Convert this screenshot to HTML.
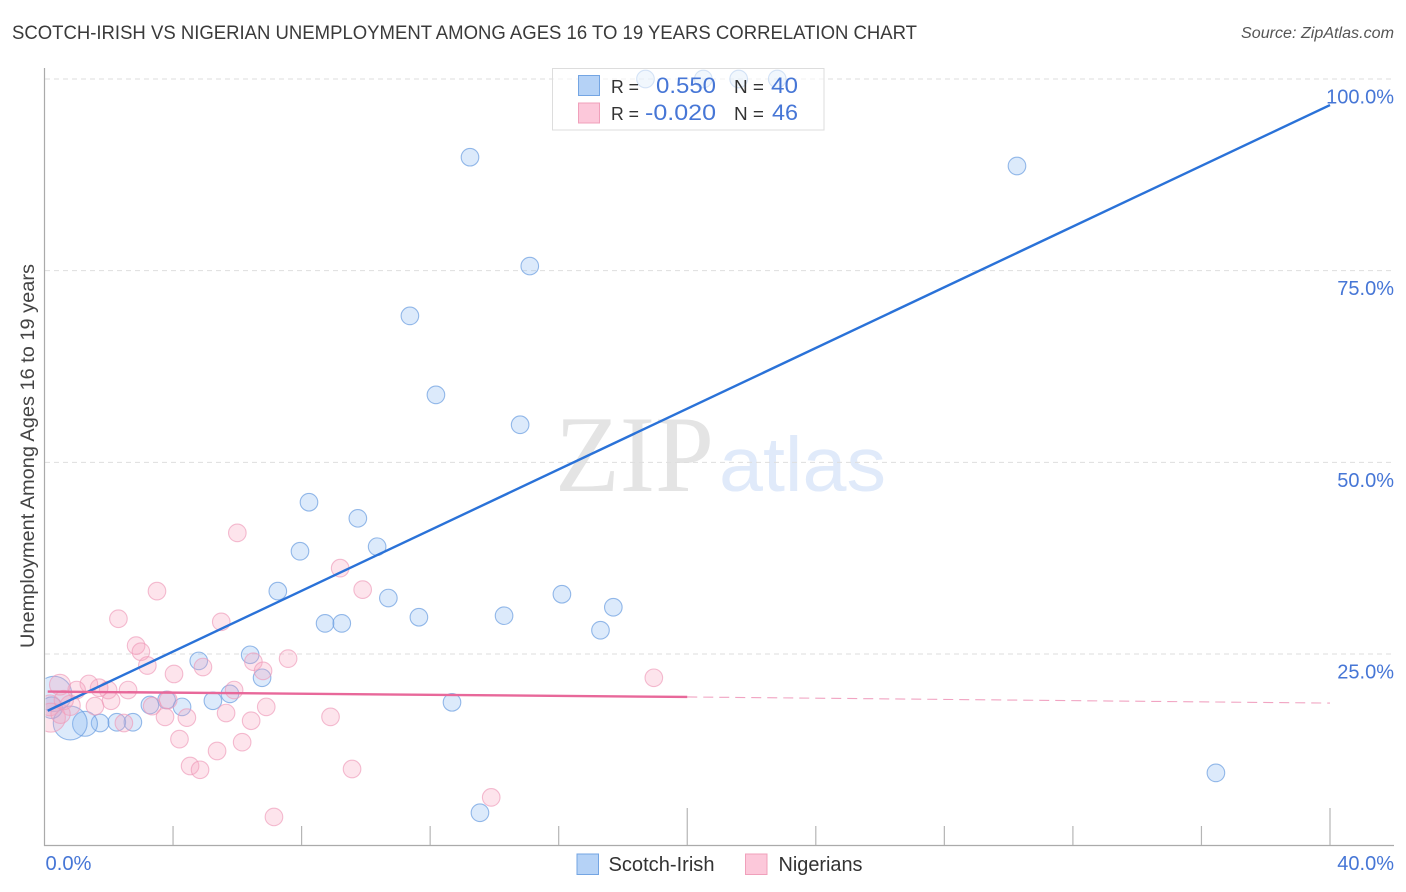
<!DOCTYPE html>
<html lang="en">
<head>
<meta charset="utf-8">
<title>Scotch-Irish vs Nigerian Unemployment Correlation Chart</title>
<style>
html,body{margin:0;padding:0;background:#fff;width:1406px;height:892px;overflow:hidden}
svg{display:block}
text{font-family:"Liberation Sans",sans-serif}
</style>
</head>
<body>
<svg id="chart" width="1406" height="892" viewBox="0 0 1406 892">
  <defs><clipPath id="plot-clip"><rect x="45.5" y="60" width="1350" height="785"/></clipPath></defs>
  <text x="12" y="39" font-size="19" fill="#3a3a3a" textLength="905" lengthAdjust="spacingAndGlyphs">SCOTCH-IRISH VS NIGERIAN UNEMPLOYMENT AMONG AGES 16 TO 19 YEARS CORRELATION CHART</text>
  <text x="1241" y="38" font-size="15.5" font-style="italic" fill="#555" textLength="153" lengthAdjust="spacingAndGlyphs">Source: ZipAtlas.com</text>
  <text transform="translate(34,456) rotate(-90)" text-anchor="middle" font-size="19" fill="#444" textLength="384" lengthAdjust="spacingAndGlyphs">Unemployment Among Ages 16 to 19 years</text>
  <g>
    <text x="555" y="491" font-size="109" fill="#e4e4e4" style="font-family:'Liberation Serif',serif" textLength="159" lengthAdjust="spacingAndGlyphs">ZIP</text>
    <text x="719" y="491" font-size="77" fill="#e0eafa" textLength="167" lengthAdjust="spacingAndGlyphs">atlas</text>
  </g>
  <g id="grid"></g>
  <g id="axes"></g>
  <g id="points" clip-path="url(#plot-clip)"></g>
  <g id="trends"></g>
  <g>
    <rect x="552.5" y="68.5" width="271.5" height="61.5" fill="#fff" fill-opacity="0.6" stroke="#ddd"/>
    <rect x="578.5" y="75.5" width="21" height="20" fill="#b5d2f6" stroke="#74a5e3"/>
    <rect x="578.5" y="103" width="21" height="20" fill="#fcc8da" stroke="#f0a0bb"/>
    <text x="611" y="93" font-size="18" fill="#333" textLength="28" lengthAdjust="spacingAndGlyphs">R =</text>
    <text x="656" y="93" font-size="22" fill="#4676d6" textLength="60" lengthAdjust="spacingAndGlyphs">0.550</text>
    <text x="734" y="93" font-size="18" fill="#333" textLength="30" lengthAdjust="spacingAndGlyphs">N =</text>
    <text x="771" y="93" font-size="22" fill="#4676d6" textLength="27" lengthAdjust="spacingAndGlyphs">40</text>
    <text x="611" y="120" font-size="18" fill="#333" textLength="28" lengthAdjust="spacingAndGlyphs">R =</text>
    <text x="645" y="120" font-size="22" fill="#4676d6" textLength="71" lengthAdjust="spacingAndGlyphs">-0.020</text>
    <text x="734" y="120" font-size="18" fill="#333" textLength="30" lengthAdjust="spacingAndGlyphs">N =</text>
    <text x="772" y="120" font-size="22" fill="#4676d6" textLength="26" lengthAdjust="spacingAndGlyphs">46</text>
  </g>
  <g>
    <rect x="577" y="854" width="21.5" height="20.5" fill="#b5d2f6" stroke="#74a5e3"/>
    <text x="608.5" y="871" font-size="20" fill="#333" textLength="106" lengthAdjust="spacingAndGlyphs">Scotch-Irish</text>
    <rect x="745.5" y="854" width="21.5" height="20.5" fill="#fcc8da" stroke="#f0a0bb"/>
    <text x="778.5" y="871" font-size="20" fill="#333" textLength="84" lengthAdjust="spacingAndGlyphs">Nigerians</text>
  </g>
</svg>
<script>
const xTickValues = [0,4,8,12,16,20,24,28,32,36,40];
const xTickLabels = ["0.0%","40.0%"];
const yTickValues = [25,50,75,100];
const yTickLabels = ["25.0%","50.0%","75.0%","100.0%"];

const scotchX = [13.24,30.26,15.1,11.37,12.18,14.8,8.23,9.75,7.95,10.35,7.26,10.7,11.65,14.3,16.1,17.7,17.3,8.73,9.25,6.4,4.8,6.77,5.24,5.77,3.8,4.28,3.28,12.68,2.75,2.25,1.73,1.26,0.8,0.3,0.22,36.45,13.55,18.7,20.5,21.6,22.8];
const scotchY = [89.8,88.65,75.6,69.1,58.8,54.9,44.8,42.7,38.4,39.0,33.2,32.3,29.8,30.0,32.8,31.1,28.1,29.0,29.0,24.9,24.1,21.9,18.9,19.8,19.0,18.1,18.35,18.7,16.1,16.1,16.0,15.9,16.0,19.8,18.0,9.5,4.3,100,100,100,100];
const scotchWeight = [1,1,1,1,1,1,1,1,1,1,1,1,1,1,1,1,1,1,1,1,1,1,1,1,1,1,1,1,1,1,1,2.0,3.7,4.0,1.5,1,1,1,1,1,1];

const nigerianX = [6.0,3.5,2.3,9.2,9.9,5.5,2.85,3.0,3.2,7.58,6.5,6.8,4.93,4.03,18.96,5.9,2.6,1.98,1.7,1.38,1.0,0.48,1.57,2.07,0.8,3.35,3.85,6.9,5.65,3.75,4.43,6.43,8.9,2.47,0.17,0.2,0.5,6.15,4.2,5.37,4.53,4.84,9.57,13.9,7.14,0.6];
const nigerianY = [40.8,33.2,29.6,36.2,33.4,29.2,26.1,25.3,23.5,24.4,24.0,22.8,23.3,22.4,21.9,20.3,20.3,20.3,20.6,21.1,20.3,21.0,18.2,18.9,18.3,18.2,19.0,18.1,17.3,16.8,16.7,16.3,16.8,16.0,18.3,16.7,17.2,13.5,13.9,12.35,10.4,9.9,10.0,6.3,3.75,19.0];
const nigerianWeight = [1,1,1,1,1,1,1,1,1,1,1,1,1,1,1,1,1,1,1,1,1,1.4,1,1,1.3,1,1,1,1,1,1,1,1,1,1.4,2.7,1.2,1,1,1,1,1,1,1,1,1.2];

const scotchTrendX = [0.1,40];
const scotchTrendY = [17.6,96.6];
const nigerianTrendX = [0.1,20];
const nigerianTrendY = [20.1,19.4];
const nigerianDashX = [20,40];
const nigerianDashY = [19.4,18.6];

const NS = "http://www.w3.org/2000/svg";
function xScale(v){ return 44.5 + v * (1330 - 44.5) / 40; }
function yScale(v){ return 845.7 - v * 7.667; }
function rScale(w){ return 8.8 * Math.sqrt(w); }
function make(tag, attrs, parent){
  const el = document.createElementNS(NS, tag);
  for (const k in attrs) el.setAttribute(k, attrs[k]);
  parent.appendChild(el);
  return el;
}
const grid = document.getElementById("grid");
const axes = document.getElementById("axes");
const points = document.getElementById("points");
const trends = document.getElementById("trends");

yTickValues.forEach(function(v){
  const gl = make("line", {x1:45, x2:1394, y1:yScale(v), y2:yScale(v), stroke:"#dedede", "stroke-width":1, "stroke-dasharray":"5 4"}, grid);
  
  
});
yTickValues.forEach(function(v, i){
  const t = make("text", {x:1394, y:yScale(v)+24.5, "text-anchor":"end", "font-size":20, fill:"#4676d6"}, axes);
  t.textContent = yTickLabels[i];
  
  
});

const yAxis = make("line", {x1:44.5, x2:44.5, y1:68, y2:846, stroke:"#aaa", "stroke-width":1.2}, axes);


const xAxis = make("line", {x1:44, x2:1394, y1:845.5, y2:845.5, stroke:"#aaa", "stroke-width":1.2}, axes);


xTickValues.forEach(function(v){
  if (v === 0) return;
  const major = v % 20 === 0;
  const tk = make("line", {x1:xScale(v), x2:xScale(v), y1:major ? 808 : 826, y2:845, stroke:"#b5b5b5", "stroke-width":1.2}, axes);
  
  
});
const xl0 = make("text", {x:45.5, y:870, "font-size":20, fill:"#4676d6", textLength:46, lengthAdjust:"spacingAndGlyphs"}, axes);
xl0.textContent = xTickLabels[0];


const xl1 = make("text", {x:1394, y:870, "text-anchor":"end", "font-size":20, fill:"#4676d6"}, axes);
xl1.textContent = xTickLabels[1];



scotchX.forEach(function(v, i){
  const c = make("circle", {cx:xScale(v), cy:yScale(scotchY[i]), r:rScale(scotchWeight[i]), fill:"#8ab8f2", "fill-opacity":0.3, stroke:"#6a9de0", "stroke-opacity":0.7, "stroke-width":1.1}, points);
  
  
});
nigerianX.forEach(function(v, i){
  const c = make("circle", {cx:xScale(v), cy:yScale(nigerianY[i]), r:rScale(nigerianWeight[i]), fill:"#f7a6c0", "fill-opacity":0.3, stroke:"#ee9ab8", "stroke-opacity":0.65, "stroke-width":1.1}, points);
  
  
});

const blueLine = make("line", {x1:xScale(scotchTrendX[0]), y1:yScale(scotchTrendY[0]), x2:xScale(scotchTrendX[1]), y2:yScale(scotchTrendY[1]), stroke:"#2a72d8", "stroke-width":2.4}, trends);


const pinkLine = make("line", {x1:xScale(nigerianTrendX[0]), y1:yScale(nigerianTrendY[0]), x2:xScale(nigerianTrendX[1]), y2:yScale(nigerianTrendY[1]), stroke:"#e8689a", "stroke-width":2.4}, trends);


const pinkDash = make("line", {x1:xScale(nigerianDashX[0]), y1:yScale(nigerianDashY[0]), x2:xScale(nigerianDashX[1]), y2:yScale(nigerianDashY[1]), stroke:"#e8689a", "stroke-width":1.1, "stroke-opacity":0.6, "stroke-dasharray":"10 6"}, trends);


</script>
</body>
</html>
